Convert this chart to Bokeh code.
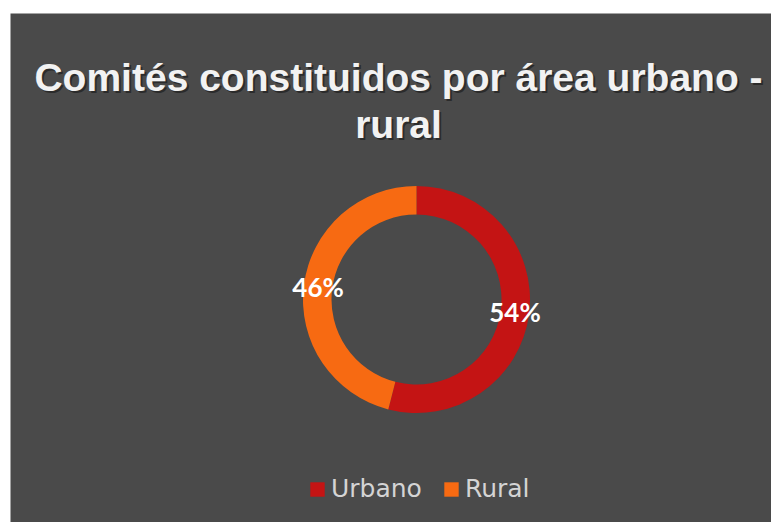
import math
from bokeh.plotting import figure
from bokeh.models import Range1d, ColumnDataSource, Label, Legend, LegendItem
from bokeh.embed import file_html
from bokeh.resources import INLINE

# ---- data ----
categories = ["Urbano", "Rural"]
values = [54, 46]
colors = ["#C41414", "#F76A12"]
title_lines = ["Comités constituidos por área urbano -", "rural"]

# ---- geometry (coordinates in picture pixels) ----
W, H = 771, 522
FL, FT = 10, 13
FW, FH = W - FL, H - FT          # frame: x 10..771, y 13..522
PX0, PYB = FL, H


def dx(px):
    return px - PX0


def dy(py):
    return PYB - py


cx, cy = dx(416), dy(299)
r_in, r_out = 85, 113.5

total = float(sum(values))
starts, ends, mids, labels = [], [], [], []
a = math.pi / 2
for v in values:
    sweep = 2 * math.pi * v / total
    starts.append(a)
    ends.append(a - sweep)
    mids.append(a - sweep / 2)
    labels.append(f"{round(100 * v / total)}%")
    a -= sweep

r_mid = (r_in + r_out) / 2
src = ColumnDataSource(dict(
    cat=categories, val=values, color=colors,
    start=starts, end=ends,
    lx=[cx + r_mid * math.cos(m) for m in mids],
    ly=[cy + r_mid * math.sin(m) for m in mids],
    lab=labels,
))

p = figure(width=W, height=H, x_range=Range1d(0, FW), y_range=Range1d(0, FH),
           output_backend="svg", toolbar_location=None,
           x_axis_location=None, y_axis_location=None,
           min_border_left=FL, min_border_top=FT, min_border_right=0, min_border_bottom=0,
           border_fill_color="white", background_fill_color="#4a4a4a",
           outline_line_color=None)
p.grid.visible = False

r = p.annular_wedge(x=cx, y=cy, inner_radius=r_in, outer_radius=r_out,
                    start_angle="start", end_angle="end", direction="clock",
                    fill_color="color", line_color=None, source=src)

p.text(x="lx", y="ly", text="lab", source=src, text_align="center",
       text_baseline="middle", text_color="white", text_font_size="26px",
       text_font_style="bold", text_font={"value": "Lato"})

# title with shadow
base1 = dy(92) + 15
base2 = dy(139) + 15
tx = dx(398)
for (ox, oy, col, alpha) in [(2, -2, "#1e1e1e", 0.7), (0, 0, "#f2f2f2", 1.0)]:
    for txt, by in zip(title_lines, [base1, base2]):
        p.add_layout(Label(x=tx + ox, y=by + oy, x_units="screen", y_units="screen",
                           text=txt, text_align="center", text_baseline="alphabetic",
                           text_font="Liberation Sans", text_font_style="bold",
                           text_font_size="39px", text_color=col, text_alpha=alpha))

legend = Legend(items=[LegendItem(label=c, renderers=[r], index=i) for i, c in enumerate(categories)],
                orientation="horizontal", location=(dx(308), 19),
                glyph_width=18, glyph_height=18, label_standoff=5, spacing=20,
                padding=0, margin=0, border_line_color=None, background_fill_alpha=0,
                label_text_font="DejaVu Sans", label_text_font_size="25px",
                label_text_color="#d4d4d4")
p.add_layout(legend)

open("out.html", "w").write(file_html(p, INLINE))
